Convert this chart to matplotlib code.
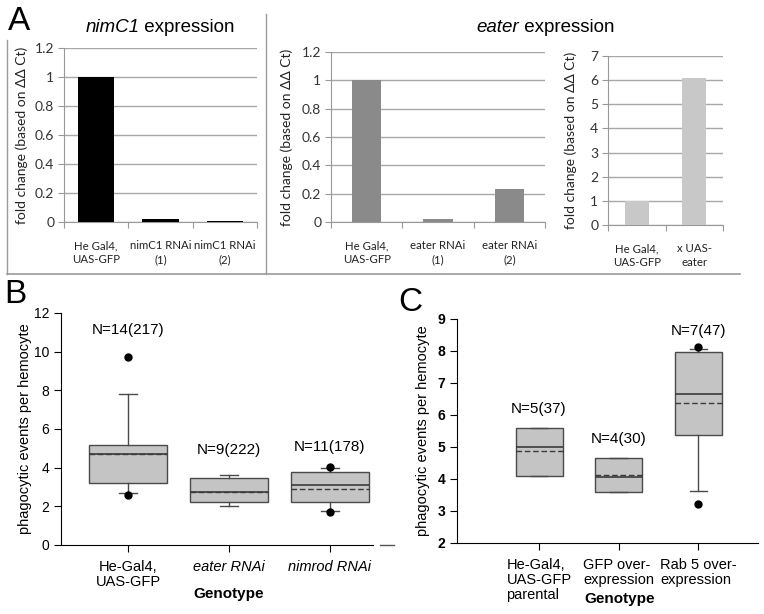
import matplotlib
matplotlib.use("Agg")
import matplotlib.pyplot as plt
from matplotlib.lines import Line2D

plt.rcParams['font.family'] = ['Liberation Sans', 'DejaVu Sans']

W, H = 764, 614

# --- panel A data (qPCR fold change) ---
nim_labels = ["He Gal4,\nUAS-GFP", "nimC1 RNAi\n(1)", "nimC1 RNAi\n(2)"]
nim_values = [1.0, 0.02, 0.01]
eat_labels = ["He Gal4,\nUAS-GFP", "eater RNAi\n(1)", "eater RNAi\n(2)"]
eat_values = [1.0, 0.02, 0.23]
over_labels = ["He Gal4,\nUAS-GFP", "x UAS-\neater"]
over_values = [1.0, 6.1]

# --- panel B data (box stats) ---
b_labels = ["He-Gal4,\nUAS-GFP", "eater RNAi", "nimrod RNAi"]
b_italic = [False, True, True]
b_q1 = [3.2, 2.2, 2.2]
b_q3 = [5.15, 3.45, 3.78]
b_med = [4.7, 2.72, 3.1]
b_mean = [4.72, 2.76, 2.9]
b_whislo = [2.7, 2.0, 1.75]
b_whishi = [7.8, 3.62, 3.97]
b_fliers = [[9.72, 2.57], [], [4.02, 1.7]]
b_ntext = ["N=14(217)", "N=9(222)", "N=11(178)"]
b_ny = [11.1, 4.9, 5.05]

# --- panel C data (box stats) ---
c_labels = ["He-Gal4,\nUAS-GFP\nparental", "GFP over-\nexpression", "Rab 5 over-\nexpression"]
c_q1 = [4.1, 3.6, 5.38]
c_q3 = [5.6, 4.65, 7.97]
c_med = [5.0, 4.07, 6.67]
c_mean = [4.87, 4.13, 6.38]
c_whislo = [4.1, 3.6, 3.62]
c_whishi = [5.6, 4.65, 8.05]
c_fliers = [[], [], [8.12, 3.22]]
c_ntext = ["N=5(37)", "N=4(30)", "N=7(47)"]
c_ny = [6.2, 5.25, 8.62]

EXCEL_FONT = ['Lato', 'DejaVu Sans']


def px_axes(fig, x0, y0, x1, y1):
    # pixel box (top-left origin) -> figure axes
    return fig.add_axes([x0 / W, 1 - y1 / H, (x1 - x0) / W, (y1 - y0) / H])


def excel_bar(ax, labels, values, color, ymax, ystep, width, ylab_x):
    n = len(values)
    ax.bar(range(n), values, width=width, color=color, zorder=3)
    ax.set_xlim(-0.5, n - 0.5)
    ax.set_ylim(0, ymax)
    ticks = [i * ystep for i in range(int(round(ymax / ystep)) + 1)]
    ax.set_yticks(ticks)
    ax.set_yticklabels([("%g" % t) for t in ticks], fontsize=10, color='#333333',
                       family=EXCEL_FONT)
    ax.grid(axis='y', color='#a8a8a8', linewidth=1, zorder=0)
    ax.set_xticks([i + 0.5 for i in range(-1, n)])
    ax.set_xticklabels([])
    ax.set_xticks(range(n), minor=True)
    ax.set_xticklabels(labels, minor=True, fontsize=8.2, color='#222222',
                       family=EXCEL_FONT, linespacing=1.35)
    ax.tick_params(axis='x', which='minor', length=0, pad=13)
    ax.tick_params(axis='x', which='major', length=4, color='#999999')
    ax.tick_params(axis='y', length=4, color='#999999', pad=3)
    for s in ['top', 'right']:
        ax.spines[s].set_visible(False)
    for s in ['left', 'bottom']:
        ax.spines[s].set_color('#999999')
    ax.set_ylabel("fold change (based on ΔΔ Ct)", fontsize=10, color='#222222',
                  family=EXCEL_FONT)
    x0 = ax.get_position().x0 * W
    ax.yaxis.set_label_coords((ylab_x - x0) / (ax.get_position().width * W), 0.5)


def mixed_title(fig, xc, yc, ital, rest, size):
    # italic gene name followed by plain text, centred on xc
    r = fig.canvas.get_renderer()
    t1 = fig.text(0, 1 - yc / H, ital, fontsize=size, style='italic', va='center')
    t2 = fig.text(0, 1 - yc / H, rest, fontsize=size, va='center')
    w1 = t1.get_window_extent(r).width
    w2 = t2.get_window_extent(r).width
    left = xc - (w1 + w2) / 2
    t1.set_x(left / W)
    t2.set_x((left + w1) / W)


def box_panel(ax, labels, q1, q3, med, mean, wlo, whi, fliers, width, capw):
    stats = []
    for i in range(len(labels)):
        stats.append(dict(q1=q1[i], q3=q3[i], med=med[i], mean=mean[i],
                          whislo=wlo[i], whishi=whi[i], fliers=fliers[i]))
    ax.bxp(stats, positions=range(len(labels)), widths=width, capwidths=capw,
           patch_artist=True, showmeans=True, meanline=True,
           boxprops=dict(facecolor='#c4c4c4', edgecolor='#4a4a4a', linewidth=1),
           medianprops=dict(color='#3a3a3a', linewidth=1.2),
           meanprops=dict(color='#3a3a3a', linewidth=1, linestyle=(0, (4, 2))),
           whiskerprops=dict(color='#4a4a4a', linewidth=1),
           capprops=dict(color='#4a4a4a', linewidth=1),
           flierprops=dict(marker='o', markerfacecolor='black', markeredgecolor='black',
                           markersize=5))
    for s in ['top', 'right']:
        ax.spines[s].set_visible(False)
    ax.tick_params(length=5, direction='out', labelsize=10)


fig = plt.figure(figsize=(W / 100, H / 100), dpi=100)

# ---------------- Panel A ----------------
a1 = px_axes(fig, 64, 48, 257, 222)
excel_bar(a1, nim_labels, nim_values, 'black', 1.2, 0.2, 0.56, 28)
a2 = px_axes(fig, 331, 52, 545, 222)
excel_bar(a2, eat_labels, eat_values, '#8a8a8a', 1.2, 0.2, 0.41, 293)
a3 = px_axes(fig, 608, 56, 723, 225)
excel_bar(a3, over_labels, over_values, '#c8c8c8', 7, 1, 0.41, 577)

mixed_title(fig, 160, 27, "nimC1", " expression", 13.5)
mixed_title(fig, 545, 28, "eater", " expression", 13.5)

# frame lines around panel A
fig.add_artist(Line2D([7 / W, 7 / W], [1 - 40 / H, 1 - 274 / H], color='#9a9a9a', lw=1))
fig.add_artist(Line2D([7 / W, 740 / W], [1 - 274 / H, 1 - 274 / H], color='#9a9a9a', lw=1.2))
fig.add_artist(Line2D([266 / W, 266 / W], [1 - 14 / H, 1 - 274 / H], color='#9a9a9a', lw=1))
fig.add_artist(Line2D([380 / W, 394 / W], [1 - 545 / H, 1 - 545 / H], color='#555555', lw=1))

# ---------------- Panel B ----------------
bx = px_axes(fig, 61, 313, 373, 545)
box_panel(bx, b_labels, b_q1, b_q3, b_med, b_mean, b_whislo, b_whishi, b_fliers,
          0.77, 0.18)
bx.set_xlim(-0.663, 2.426)
bx.set_ylim(0, 12)
bx.set_yticks(range(0, 13, 2))
bx.set_xticks(range(3))
bx.set_xticklabels(b_labels, fontsize=10.5, linespacing=1.05)
for lab, it in zip(bx.get_xticklabels(), b_italic):
    if it:
        lab.set_fontstyle('italic')
bx.tick_params(axis='x', pad=6)
for i in range(3):
    bx.text(i, b_ny[i], b_ntext[i], ha='center', va='center', fontsize=11)
bx.set_xlabel("Genotype", fontsize=11, fontweight='bold')
bx.xaxis.set_label_coords((229 - 61) / 312, (545 - 587) / 232)
bx.set_ylabel("phagocytic events per hemocyte", fontsize=10.5)
bx.yaxis.set_label_coords((32 - 61) / 312, 0.5)

# ---------------- Panel C ----------------
cx = px_axes(fig, 457, 319, 758, 543)
box_panel(cx, c_labels, c_q1, c_q3, c_med, c_mean, c_whislo, c_whishi, c_fliers,
          0.59, 0.21)
cx.set_xlim(-1.03, 2.75)
cx.set_ylim(2, 9)
cx.set_yticks(range(2, 10))
cx.set_yticklabels([str(v) for v in range(2, 10)], fontweight='bold')
cx.set_xticks(range(3))
cx.set_xticklabels(c_labels, fontsize=10.5, linespacing=1.1)
for lab in cx.get_xticklabels():
    lab.set_multialignment('left')
cx.tick_params(axis='x', pad=6)
for i in range(3):
    cx.text(i, c_ny[i], c_ntext[i], ha='center', va='center', fontsize=11)
cx.set_xlabel("Genotype", fontsize=11, fontweight='bold')
cx.xaxis.set_label_coords((620 - 457) / 301, (543 - 592) / 224)
cx.set_ylabel("phagocytic events per hemocyte", fontsize=10.5)
cx.yaxis.set_label_coords((430 - 457) / 301, 0.5)

# panel letters
fig.text(8 / W, 1 - 6 / H, "A", fontsize=24, va='top', ha='left')
fig.text(4 / W, 1 - 279 / H, "B", fontsize=24, va='top', ha='left')
fig.text(398 / W, 1 - 287 / H, "C", fontsize=24, va='top', ha='left')

fig.savefig("out.png", dpi=100)
